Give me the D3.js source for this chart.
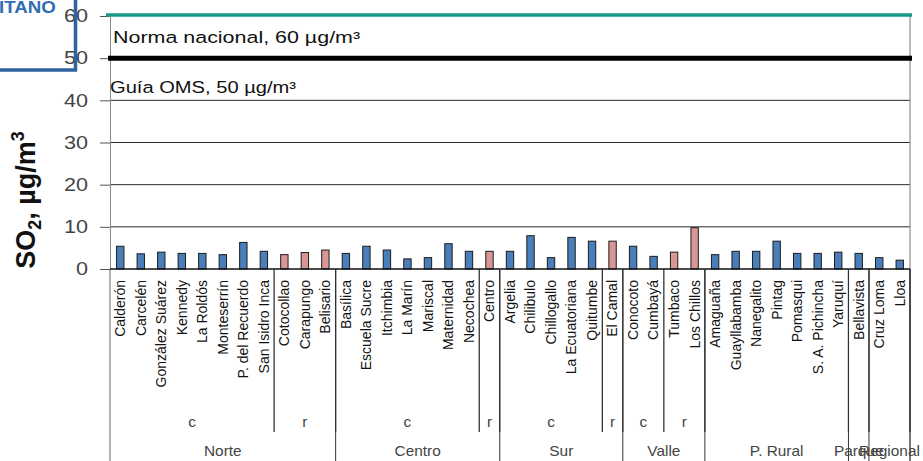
<!DOCTYPE html>
<html><head><meta charset="utf-8">
<script src="https://cdn.jsdelivr.net/npm/d3@7"></script>
<style>body{margin:0;background:#fff}svg{display:block;font-family:"Liberation Sans",Arial,sans-serif}</style>
</head><body><svg id="c" width="923" height="461"></svg>
<script>
const stations = ["Calderón","Carcelén","González Suárez","Kennedy","La Roldós","Monteserrín","P. del Recuerdo","San Isidro Inca",
  "Cotocollao","Carapungo","Belisario",
  "Basílica","Escuela Sucre","Itchimbia","La Marín","Mariscal","Maternidad","Necochea",
  "Centro",
  "Argelia","Chilibulo","Chillogallo","La Ecuatoriana","Quitumbe",
  "El Camal",
  "Conocoto","Cumbayá",
  "Tumbaco","Los Chillos",
  "Amaguaña","Guayllabamba","Nanegalito","Pintag","Pomasqui","S. A. Pichincha","Yaruquí",
  "Bellavista",
  "Cruz Loma","Lloa"];
const so2 = [5.4,3.6,4.0,3.7,3.7,3.4,6.3,4.2,
  3.4,3.9,4.5,
  3.7,5.4,4.5,2.4,2.7,6.0,4.2,
  4.2,
  4.2,7.9,2.7,7.5,6.6,
  6.6,
  5.4,3.0,
  4.0,9.8,
  3.4,4.2,4.2,6.6,3.7,3.7,4.0,
  3.7,
  2.7,2.1];
const subgroupLabels = ["c","r","c","r","c","r","c","r","","",""];
const subgroupSizes = [8,3,7,1,5,1,2,2,7,1,2];
const regionLabels = ["Norte","Centro","Sur","Valle","P. Rural","Parque","Regional"];
const regionSizes = [11,8,6,4,7,1,2];
const yTicks = [0,10,20,30,40,50,60];
const gridTicks = [10,20,30,40];
const normaNacional = 60, guiaOMS = 50;

const svg = d3.select("#c");
const X0 = 110, X1 = 910;
const x = d3.scaleBand().domain(stations).range([X0, X1]).paddingInner(0.64).paddingOuter(0.32);
const step = x.step();
const bnd = i => X0 + i * step;
const y = d3.scaleLinear().domain([0, 60]).range([269, 16]);

// station type from subgroups
const stType = [];
subgroupSizes.forEach((n, k) => { for (let i = 0; i < n; i++) stType.push(subgroupLabels[k]); });

// gridlines
svg.append("g").selectAll("line").data(gridTicks).join("line")
  .attr("x1", X0).attr("x2", X1).attr("y1", d => y(d)).attr("y2", d => y(d))
  .attr("stroke", "#2a2a2a").attr("stroke-width", 1);

// y axis
const ax = svg.append("g").attr("transform", `translate(${X0},0)`)
  .call(d3.axisLeft(y).tickValues(yTicks).tickSize(10).tickPadding(12).tickSizeOuter(0));
ax.select(".domain").attr("stroke", "#888");
ax.selectAll(".tick line").attr("stroke", "#555");
ax.selectAll(".tick text").attr("font-size", 18).attr("fill", "#444")
  .attr("font-family", "Liberation Sans, Arial, sans-serif")
  .attr("x", -22 / 1.2).attr("transform", "scale(1.2,1)");

// left axis continuation & right border
svg.append("line").attr("x1", X0).attr("x2", X0).attr("y1", y(0)).attr("y2", 461).attr("stroke", "#666");
svg.append("line").attr("x1", X1).attr("x2", X1).attr("y1", y(60)).attr("y2", 461).attr("stroke", "#777");

// bars
svg.append("g").selectAll("rect").data(stations).join("rect")
  .attr("x", d => x(d)).attr("width", x.bandwidth())
  .attr("y", (d, i) => y(so2[i])).attr("height", (d, i) => y(0) - y(so2[i]))
  .attr("fill", (d, i) => stType[i] === "r" ? "#d99694" : "#4a7ebb")
  .attr("stroke", "#1c1c1c").attr("stroke-width", 1);

// baseline
svg.append("line").attr("x1", X0).attr("x2", X1).attr("y1", y(0)).attr("y2", y(0))
  .attr("stroke", "#111").attr("stroke-width", 1.5);

// reference lines
svg.append("line").attr("x1", X0 - 4).attr("x2", X1 + 2).attr("y1", y(normaNacional) - 1).attr("y2", y(normaNacional) - 1)
  .attr("stroke", "#1b9a8a").attr("stroke-width", 3.5);
svg.append("line").attr("x1", X0 - 2).attr("x2", X1 + 2).attr("y1", y(guiaOMS)).attr("y2", y(guiaOMS))
  .attr("stroke", "#000").attr("stroke-width", 5);

svg.append("text").attr("transform", `translate(113,43) scale(1.3,1)`)
  .attr("font-size", 16.5).attr("fill", "#111").text("Norma nacional, 60 µg/m³");
svg.append("text").attr("transform", `translate(110,93) scale(1.22,1)`)
  .attr("font-size", 16.5).attr("fill", "#111").text("Guía OMS, 50 µg/m³");

// category labels
svg.append("g").selectAll("text").data(stations).join("text")
  .attr("transform", d => `translate(${x(d) + x.bandwidth() / 2},280) rotate(-90)`)
  .attr("text-anchor", "end").attr("dy", "0.35em")
  .attr("font-size", 14).attr("fill", "#111").text(d => d);

// subgroup separators & labels
let acc = 0;
const subG = svg.append("g");
subgroupSizes.forEach((n, k) => {
  const a = acc, b = acc + n; acc = b;
  subG.append("line").attr("x1", bnd(b)).attr("x2", bnd(b)).attr("y1", y(0)).attr("y2", 432)
    .attr("stroke", "#222").attr("stroke-width", 1.2);
  if (subgroupLabels[k]) {
    subG.append("text").attr("transform", `translate(${(bnd(a) + bnd(b)) / 2},427) scale(1.1,1)`)
      .attr("text-anchor", "middle").attr("font-size", 14).attr("fill", "#444").text(subgroupLabels[k]);
  }
});
// region separators & labels
acc = 0;
const regG = svg.append("g");
regionSizes.forEach((n, k) => {
  const a = acc, b = acc + n; acc = b;
  regG.append("line").attr("x1", bnd(b)).attr("x2", bnd(b)).attr("y1", y(0)).attr("y2", 461)
    .attr("stroke", "#333").attr("stroke-width", 1);
  regG.append("text").attr("transform", `translate(${(bnd(a) + bnd(b)) / 2},456) scale(1.1,1)`)
    .attr("text-anchor", "middle").attr("font-size", 14).attr("fill", "#444").text(regionLabels[k]);
});

// y title
const yt = svg.append("text").attr("transform", "translate(35,200) rotate(-90)")
  .attr("text-anchor", "middle").attr("font-size", 27).attr("font-weight", "bold").attr("fill", "#111");
yt.append("tspan").text("SO");
yt.append("tspan").attr("font-size", 18).attr("dy", 6).text("2");
yt.append("tspan").attr("dy", -6).text(", µg/m");
yt.append("tspan").attr("font-size", 18).attr("dy", -11).text("3");

// stray logo box in top-left corner
svg.append("rect").attr("x", -10).attr("y", -10).attr("width", 85.5).attr("height", 80)
  .attr("fill", "none").attr("stroke", "#2f62a0").attr("stroke-width", 3.5);
svg.append("text").attr("transform", "translate(-1,13) scale(1.1,1)")
  .attr("font-size", 17).attr("font-weight", "bold").attr("fill", "#2e6db4").text("ITANO");
</script></body></html>
